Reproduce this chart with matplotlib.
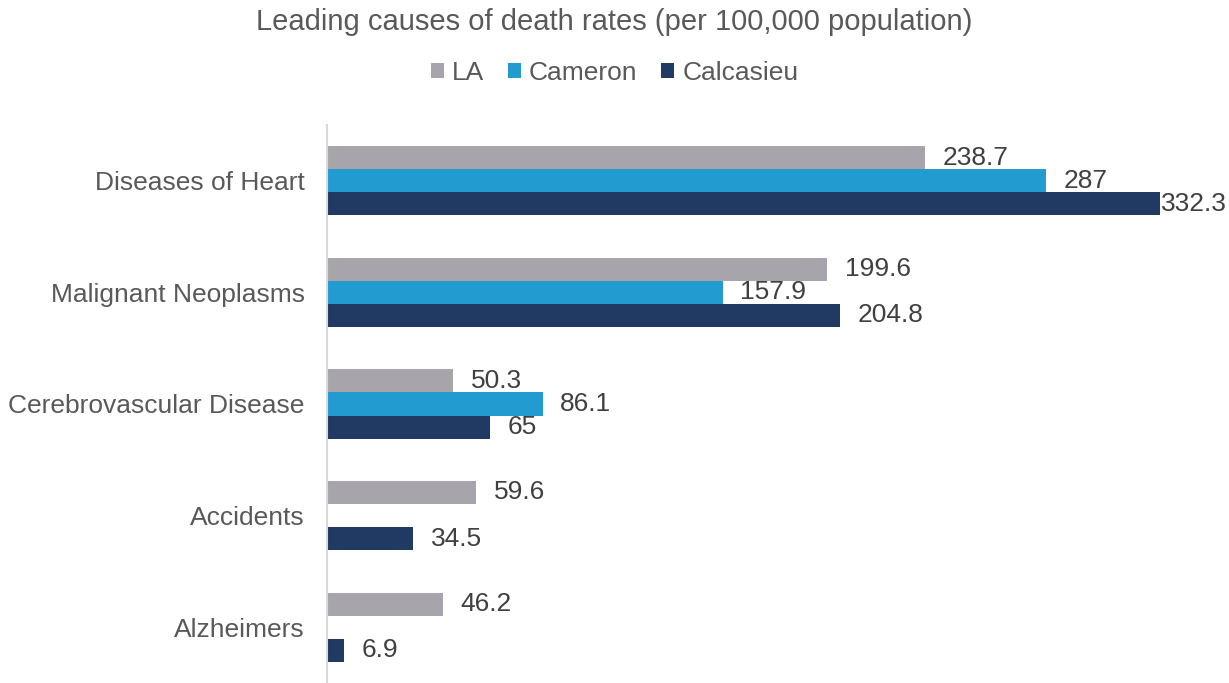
import numpy as np
import matplotlib.pyplot as plt

plt.rcParams['font.family'] = ['Liberation Sans', 'DejaVu Sans']

# Rates per 100,000 population
causes = ["Diseases of Heart", "Malignant Neoplasms", "Cerebrovascular Disease",
          "Accidents", "Alzheimers"]
la = [238.7, 199.6, 50.3, 59.6, 46.2]
cameron = [287, 157.9, 86.1, None, None]
calcasieu = [332.3, 204.8, 65, 34.5, 6.9]

series = [("LA", la, "#A7A5AB"),
          ("Cameron", cameron, "#229BD1"),
          ("Calcasieu", calcasieu, "#203A63")]

fig = plt.figure(figsize=(12.29, 6.83), dpi=100)
ax = fig.add_axes([0.266, 0.0, 0.714, 0.817])

y = np.arange(len(causes))
h = 0.207
for i, (name, vals, color) in enumerate(series):
    pos = y + (i - 1) * h
    for yy, v in zip(pos, vals):
        if v is None:
            continue
        ax.barh(yy, v, height=h, color=color)
        # keep the longest label inside the figure, overlapping its bar end
        ax.text(min(v + 7, 332.5), yy, f"{v:g}", va="center", ha="left",
                fontsize=19, color="#404040", clip_on=False)
    ax.barh(np.nan, 0, color=color, label=name)

ax.set_ylim(len(causes) - 0.5, -0.5)
ax.set_xlim(0, 350)
ax.set_yticks(y)
ax.set_yticklabels(causes, fontsize=19, color="#595959")
ax.tick_params(axis="y", length=0, pad=16)
ax.set_xticks([])
for s in ["top", "right", "bottom"]:
    ax.spines[s].set_visible(False)
ax.spines["left"].set_color("#D9D9D9")
ax.spines["left"].set_linewidth(1.5)

fig.text(0.5, 0.968, "Leading causes of death rates (per 100,000 population)",
         ha="center", va="center", fontsize=21, color="#595959")
fig.legend(loc="center", bbox_to_anchor=(0.5, 0.893), ncol=3, frameon=False,
           fontsize=19, handlelength=0.5, handleheight=0.5, handletextpad=0.3,
           columnspacing=0.9, labelcolor="#595959")

fig.savefig("out.png", dpi=100)
